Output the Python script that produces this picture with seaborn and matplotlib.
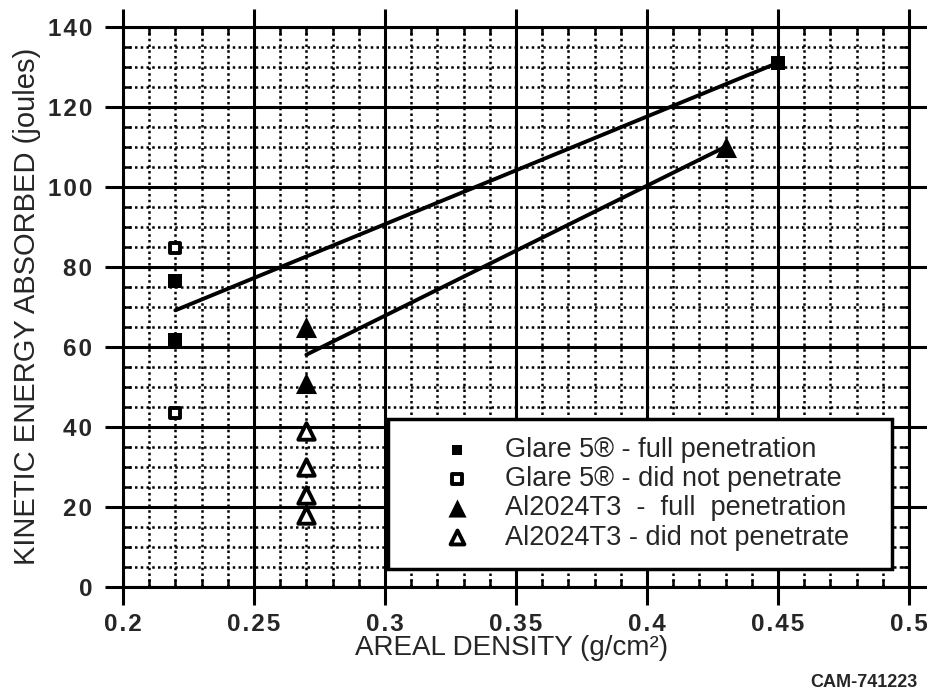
import numpy as np
import pandas as pd
import seaborn as sns
import matplotlib.pyplot as plt
from matplotlib.ticker import MultipleLocator

# ---------------- data ----------------
glare_full_x = [0.22, 0.22, 0.45]
glare_full_y = [61.7, 76.5, 131]
glare_np_x = [0.22, 0.22]
glare_np_y = [84.6, 43.5]
al_full_x = [0.27, 0.27, 0.43]
al_full_y = [51, 65, 110]
al_np_x = [0.27, 0.27, 0.27, 0.27]
al_np_y = [39, 30, 23, 18]

series_labels = ['Glare 5® - full penetration',
                 'Glare 5® - did not penetrate',
                 'Al2024T3  -  full  penetration',
                 'Al2024T3 - did not penetrate']
x_tick_labels = ['0.2', '0.25', '0.3', '0.35', '0.4', '0.45', '0.5']
y_tick_labels = ['0', '20', '40', '60', '80', '100', '120', '140']

# ---------------- style ----------------
sns.set_style('ticks')
plt.rcParams['font.family'] = ['Liberation Sans', 'DejaVu Sans']

fig = plt.figure(figsize=(9.28, 6.94), dpi=100)
ax = fig.add_axes([0.1325, 0.1546, 0.847, 0.8069])

# regression lines
sns.regplot(x=glare_full_x, y=glare_full_y, ci=None, scatter=False, truncate=True,
            color='black', line_kws=dict(lw=2.8), ax=ax)
sns.regplot(x=al_full_x, y=al_full_y, ci=None, scatter=False, truncate=True,
            color='black', line_kws=dict(lw=2.8), ax=ax)

# points
sns.scatterplot(x=glare_full_x, y=glare_full_y, marker='s', s=95, color='black',
                linewidth=0, label=series_labels[0], ax=ax, zorder=5)
sns.scatterplot(x=glare_np_x, y=glare_np_y, marker='s', s=50, color='white',
                edgecolor='black', linewidth=2.8, label=series_labels[1], ax=ax, zorder=5)
sns.scatterplot(x=al_full_x, y=al_full_y, marker='^', s=230, color='black',
                linewidth=0, label=series_labels[2], ax=ax, zorder=5)
sns.scatterplot(x=al_np_x, y=al_np_y, marker='^', s=140, color='white',
                edgecolor='black', linewidth=2.8, label=series_labels[3], ax=ax, zorder=5)

# axes
hs = '\u200a'
ax.set_xlim(0.2, 0.5)
ax.set_ylim(0, 140)
ax.set_xticks([float(t) for t in x_tick_labels],
              labels=[hs.join(t) for t in x_tick_labels],
              fontsize=17.5, fontweight='bold')
ax.set_yticks([float(t) for t in y_tick_labels],
              labels=[hs.join(t) for t in y_tick_labels],
              fontsize=17.5, fontweight='bold')
ax.xaxis.set_minor_locator(MultipleLocator(0.01))
ax.yaxis.set_minor_locator(MultipleLocator(5))
ax.set_axisbelow(True)
ax.grid(which='major', color='black', lw=2.2, ls='-')
ax.grid(which='minor', color='black', lw=1.8, ls=(0, (1, 1.3)))
ax.tick_params(which='major', direction='out', length=13, width=2.2,
               top=True, right=True, color='black')
ax.tick_params(axis='x', which='major', pad=6)
ax.tick_params(axis='y', which='major', pad=9)
ax.tick_params(which='minor', direction='in', length=6, width=1.8,
               top=True, right=True, color='black')
for sp in ax.spines.values():
    sp.set_visible(True)
    sp.set_linewidth(2.2)
    sp.set_color('black')

ax.set_xlabel('AREAL DENSITY (g/cm²)', fontsize=20)
ax.set_ylabel('KINETIC ENERGY ABSORBED (joules)', fontsize=21)
ax.xaxis.set_label_coords(0.494, -0.086)
ax.yaxis.set_label_coords(-0.104, 0.5)

leg = ax.legend(loc='lower left', bbox_to_anchor=(0.337, 0.0316, 0.641, 0.26),
                mode='expand', fontsize=19.5, frameon=True, fancybox=False,
                framealpha=1, edgecolor='black', borderpad=0.68,
                handlelength=3.73, handletextpad=-0.094,
                labelspacing=0.115, borderaxespad=0)
leg.get_frame().set_linewidth(2.5)
for h, s in zip(leg.legend_handles, [60, 42, 170, 100]):
    h.set_sizes([s])

fig.text(0.989, 0.016, 'CAM-741223', ha='right', va='center',
         fontsize=13, fontweight='bold')

fig.savefig('out.png', dpi=100)
